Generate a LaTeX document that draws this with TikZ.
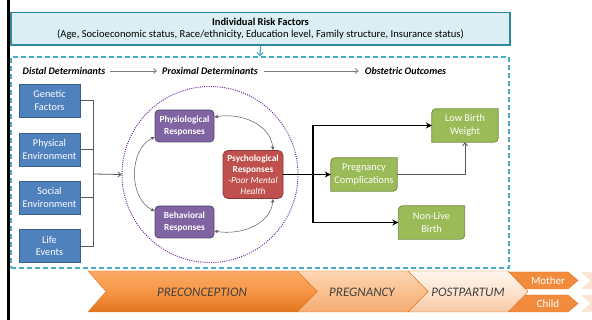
\documentclass[tikz,border=0pt]{standalone}
\usepackage{fontspec}
\setmainfont{Carlito}
\usetikzlibrary{arrows.meta,backgrounds}
\definecolor{topfill}{HTML}{DAEEF3}
\definecolor{topline}{HTML}{31859C}
\definecolor{dashblue}{HTML}{4BACC6}
\definecolor{bfill}{HTML}{4F81BD}
\definecolor{bline}{HTML}{385D8A}
\definecolor{pfill}{HTML}{8064A2}
\definecolor{pline}{HTML}{5C4776}
\definecolor{rfill}{HTML}{C0504D}
\definecolor{rline}{HTML}{8C3836}
\definecolor{gfill}{HTML}{9BBB59}
\definecolor{gline}{HTML}{71893F}
\definecolor{circcol}{HTML}{7030A0}
\definecolor{darkgray}{HTML}{595959}
\definecolor{hdrgray}{HTML}{7F7F7F}
\definecolor{chtext}{HTML}{404040}
\definecolor{orA}{HTML}{FAAA66}
\definecolor{orB}{HTML}{F79646}
\definecolor{orC}{HTML}{E2741E}
\definecolor{peA}{HTML}{FDD6B6}
\definecolor{peB}{HTML}{FAC090}
\definecolor{peC}{HTML}{F5AC72}
\definecolor{poA}{HTML}{FFF6EE}
\definecolor{poB}{HTML}{FDE3CF}
\definecolor{poC}{HTML}{F8C9A4}
\definecolor{mcfill}{HTML}{F28C3C}
\definecolor{mcline}{HTML}{E0722A}
\definecolor{faint}{HTML}{FCE4D6}
\newcommand\greenshape[1]{%
  \begin{scope}[on background layer]
  \draw[gdraw] ([yshift=-4pt]#1.north west) arc[start angle=180,end angle=90,radius=4pt]
    -- (#1.north east) -- ([yshift=4pt]#1.south east)
    arc[start angle=0,end angle=-90,radius=4pt] -- (#1.south west) -- cycle;
  \end{scope}}
\tikzset{
  topbox/.style={draw=topline, fill=topfill, line width=1.2pt, minimum width=499pt, minimum height=32.5pt, inner sep=0pt, align=center},
  dbox/.style={draw=dashblue, line width=1.2pt, dash pattern=on 5pt off 3pt, minimum width=498pt, minimum height=211pt, inner sep=0pt},
  hdr/.style={font=\fontsize{10}{12}\selectfont\bfseries\itshape, inner sep=0pt},
  hdrarrow/.style={draw=hdrgray, line width=0.8pt, -{Straight Barb[length=3pt,width=5pt]}},
  bluebox/.style={draw=bline, fill=bfill, line width=0.8pt, text=white, minimum width=61pt, minimum height=33pt, inner sep=0pt, align=center, font=\fontsize{10.3}{12.5}\selectfont},
  purplebox/.style={draw=pline, fill=pfill, line width=0.8pt, rounded corners=4pt, text=white, minimum width=59pt, minimum height=32pt, inner sep=0pt, align=center, font=\fontsize{9.3}{11.5}\selectfont\bfseries},
  redbox/.style={draw=rline, fill=rfill, line width=0.8pt, rounded corners=5pt, text=white, minimum width=60pt, minimum height=48pt, inner sep=0pt, align=center, font=\fontsize{9.3}{11}\selectfont},
  greenbox/.style={text=white, minimum width=66pt, minimum height=33pt, inner sep=0pt, align=center, font=\fontsize{10.3}{12.5}\selectfont},
  gdraw/.style={draw=gline, fill=gfill, line width=0.8pt},
  brk/.style={draw=darkgray, line width=0.8pt},
  garrow/.style={draw=darkgray, line width=0.8pt, -{Straight Barb[length=3pt,width=5pt]}},
  curarrow/.style={draw=darkgray, line width=0.5pt, {Stealth[length=4pt,width=3.5pt]}-{Stealth[length=4pt,width=3.5pt]}},
  blkarrow/.style={draw=black, line width=1.6pt, -{Stealth[length=6pt,width=6pt]}},
  chev/.style={draw=orC, line width=0.4pt},
  chtxt/.style={font=\fontsize{13}{15}\selectfont\itshape, text=chtext, inner sep=0pt},
  mctxt/.style={font=\fontsize{11}{13}\selectfont, text=white, inner sep=0pt}
}
\begin{document}
\begin{tikzpicture}[x=1pt,y=-1pt]
\useasboundingbox (0,0) rectangle (592,320);
% left bar
\draw[line width=2.6pt] (8.7,0) -- (8.7,320);
% top box
\node[topbox] (irf) at (260.5,28.8) {{\fontsize{10.5}{13}\selectfont\bfseries Individual Risk Factors}\\[-0.5pt]{\fontsize{10.6}{12}\selectfont (Age, Socioeconomic status, Race/ethnicity, Education level, Family structure, Insurance status)}};
% dashed box
\node[dbox] (db) at (260,162.5) {};
\draw[draw=dashblue, line width=1.2pt, -{Straight Barb[length=3pt,width=6pt]}] (irf.south) -- (db.north);
% header
\node[hdr] (dd) at (64,71) {Distal Determinants};
\node[hdr] (pd) at (210,71) {Proximal Determinants};
\node[hdr] (oo) at (405.5,71) {Obstetric Outcomes};
\draw[hdrarrow] ([xshift=5pt]dd.east) -- ([xshift=-5pt]pd.west);
\draw[hdrarrow] ([xshift=6pt]pd.east) -- ([xshift=-6pt]oo.west);
% blue boxes
\node[bluebox] (gen) at (49.5,100.5) {Genetic\\Factors};
\node[bluebox] (phy) at (49.5,149.5) {Physical\\Environment};
\node[bluebox] (soc) at (49.5,197.5) {Social\\Environment};
\node[bluebox] (lif) at (49.5,246) {Life\\Events};
\coordinate (bt) at (93,100.5);
\coordinate (bm) at (93,174);
\draw[brk] (gen.east) -- (bt) |- (lif.east);
\draw[brk] (phy.east) -- (phy.east -| bt);
\draw[brk] (soc.east) -- (soc.east -| bt);
% circle
\node[circle, draw=circcol, line width=1pt, dash pattern=on 1pt off 1.2pt, minimum size=176pt, inner sep=0pt] (circ) at (210,174.5) {};
\draw[garrow] (bm) -- (circ.west);
% purple / red
\node[purplebox] (phys) at (184.5,126) {Physiological\\Responses};
\node[purplebox] (beh) at (184.5,222) {Behavioral\\Responses};
\node[redbox] (psy) at (253,174.5) {{\bfseries Psychological}\\{\bfseries Responses}\\{\itshape -Poor Mental}\\{\itshape Health}};
\draw[curarrow] ([yshift=9pt]phys.east) to[out=10,in=95] ([xshift=20pt]psy.north);
\draw[curarrow] ([yshift=-9pt]beh.east) to[out=-10,in=-95] ([xshift=20pt]psy.south);
\draw[curarrow] ([yshift=-11pt]phys.west) to[out=205,in=155] ([yshift=11pt]beh.west);
% green
\node[greenbox] (lbw) at (465,125.5) {Low Birth\\Weight};
\node[greenbox] (pc) at (364,174.5) {Pregnancy\\Complications};
\node[greenbox] (nlb) at (431.5,222.5) {Non-Live\\Birth};
\greenshape{lbw}
\greenshape{pc}
\greenshape{nlb}
\coordinate (br) at (313,174.5);
\draw[blkarrow] (psy.east) -- (pc.west);
\draw[blkarrow] (br) |- (lbw.west);
\draw[blkarrow] (br) |- (nlb.west);
\draw[garrow] (pc.east) -| (lbw.south);
% chevrons
\path[chev, top color=poA, bottom color=poC, middle color=poB] (408,271) -- (508,271) -- (528,291.5) -- (508,312) -- (408,312) -- (428,291.5) -- cycle;
\path[chev, top color=peA, bottom color=peC, middle color=peB] (297,271) -- (408,271) -- (428,291.5) -- (408,312) -- (297,312) -- (317,291.5) -- cycle;
\path[chev, top color=orA, bottom color=orC, middle color=orB] (88,271) -- (297,271) -- (317,291.5) -- (297,312) -- (88,312) -- (106,291.5) -- cycle;
\path[draw=mcline, line width=0.4pt, fill=mcfill] (509,272) -- (568,272) -- (578,280.5) -- (568,289) -- (525.5,289) -- cycle;
\path[draw=mcline, line width=0.4pt, fill=mcfill] (525.5,295) -- (568,295) -- (578,303.5) -- (568,312) -- (509,312) -- cycle;
\fill[faint] (581,272) -- (592,272) -- (592,289) -- (581,289) -- (590,280.5) -- cycle;
\fill[faint] (581,295) -- (592,295) -- (592,312) -- (581,312) -- (590,303.5) -- cycle;
\node[chtxt] (pre) at (202,292) {PRECONCEPTION};
\node[chtxt] (preg) at (362,292) {PREGNANCY};
\node[chtxt] (post) at (468,292) {POSTPARTUM};
\node[mctxt] (mot) at (548,281) {Mother};
\node[mctxt] (chi) at (548,304) {Child};
\end{tikzpicture}
\end{document}
